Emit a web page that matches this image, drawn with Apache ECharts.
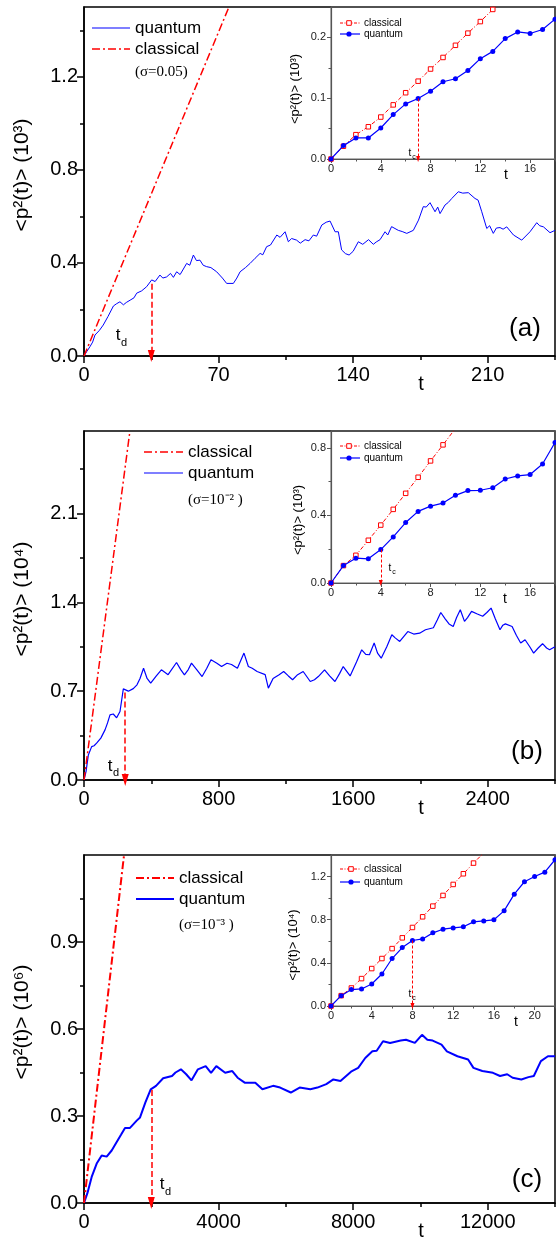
<!DOCTYPE html>
<html><head><meta charset="utf-8">
<script src="https://cdn.jsdelivr.net/npm/echarts@6/dist/echarts.min.js"></script>
<style>html,body{margin:0;padding:0;background:#fff}#c{width:556px;height:1240px}</style>
</head><body><div id="c"></div>
<script>
// ---------- tick values ----------
const aXTicks=[0,70,140,210], aXMinor=[35,105,175,245];
const aYTicks=[0,0.4,0.8,1.2], aYMinor=[0.2,0.6,1.0,1.4];
const bXTicks=[0,800,1600,2400], bXMinor=[400,1200,2000,2800];
const bYTicks=[0,0.7,1.4,2.1], bYMinor=[0.35,1.05,1.75,2.45];
const cXTicks=[0,4000,8000,12000], cXMinor=[2000,6000,10000,14000];
const cYTicks=[0,0.3,0.6,0.9], cYMinor=[0.15,0.45,0.75,1.05];
const iXTicks=[0,4,8,12,16], iXMinor=[2,6,10,14,18];
const icXTicks=[0,4,8,12,16,20], icXMinor=[2,6,10,14,18,22];
const iaYTicks=[0,0.1,0.2], iaYMinor=[0.05,0.15];
const ibYTicks=[0,0.4,0.8], ibYMinor=[0.2,0.6];
const icYTicks=[0,0.4,0.8,1.2], icYMinor=[0.2,0.6,1.0];

// ---------- main panel data [t, <p^2>] ----------
const classicalA=[[0,0],[75.4,1.5]];
const classicalB=[[0,0],[273,2.75]];
const classicalC=[[0,0],[1190,1.2]];
const quantumA=[[0,0],[1.5,0.02],[3.1,0.04],[4.5,0.06],[5.7,0.09],[8,0.11],[10,0.133],[12.5,0.17],[15.3,0.215],[17,0.225],[18.7,0.233],[20.5,0.22],[22,0.23],[24,0.24],[26,0.25],[27.4,0.27],[30,0.28],[32.6,0.298],[35.2,0.327],[37,0.32],[39.5,0.348],[41,0.335],[43,0.34],[45,0.355],[46.5,0.338],[48.2,0.362],[50,0.35],[53.4,0.398],[55,0.39],[56.9,0.434],[58.5,0.41],[60.3,0.412],[62,0.39],[63.8,0.384],[66,0.38],[69,0.362],[72,0.335],[74.2,0.312],[77.7,0.312],[79.5,0.335],[81.2,0.362],[84,0.38],[86.4,0.398],[89,0.42],[91.6,0.441],[93,0.435],[95,0.47],[97,0.477],[100.3,0.52],[102,0.51],[104.6,0.534],[106.3,0.491],[108,0.505],[110.6,0.498],[112.5,0.485],[115,0.5],[117,0.495],[119.3,0.52],[121,0.515],[123.7,0.563],[126,0.575],[128,0.58],[130.6,0.534],[132.3,0.534],[134,0.456],[136,0.44],[137.9,0.434],[140,0.45],[142.7,0.491],[145,0.48],[148,0.5],[150.5,0.48],[152,0.49],[154,0.5],[156.6,0.534],[158,0.52],[160,0.556],[163.5,0.54],[165.5,0.535],[167.9,0.527],[171.3,0.54],[174,0.584],[176.5,0.642],[178,0.64],[180,0.659],[182.6,0.62],[184,0.64],[185.2,0.612],[187.8,0.649],[189.5,0.66],[191.3,0.677],[194.7,0.706],[197,0.7],[199.9,0.702],[203.4,0.677],[205,0.67],[206.9,0.62],[209.5,0.548],[211,0.56],[212.9,0.527],[214.5,0.55],[216.4,0.552],[218,0.545],[219.9,0.555],[223.4,0.52],[227.7,0.498],[232,0.534],[235.5,0.573],[237,0.56],[239,0.555],[242.4,0.53],[245,0.54]];
const quantumB=[[0,0],[12,0.066],[25.8,0.197],[45.6,0.263],[60,0.27],[75,0.29],[100,0.33],[125,0.395],[140,0.45],[154.6,0.513],[174,0.52],[194,0.49],[214,0.54],[233.8,0.718],[263.6,0.7],[293,0.72],[315,0.75],[333,0.8],[354,0.88],[375,0.8],[396.5,0.763],[430,0.82],[460,0.868],[500,0.83],[550,0.926],[575,0.87],[597,0.829],[620,0.87],[639,0.921],[670,0.87],[702,0.815],[730,0.88],[755,0.947],[790,0.92],[818,0.894],[850,0.92],[877,0.91],[912,0.88],[951,1.0],[977,0.894],[1000,0.88],[1029,0.855],[1077,0.83],[1096,0.724],[1124,0.8],[1160,0.83],[1187,0.855],[1215,0.82],[1240,0.79],[1270,0.83],[1303,0.855],[1345,0.776],[1370,0.79],[1393,0.815],[1430,0.868],[1460,0.82],[1492,0.776],[1520,0.84],[1541,0.894],[1582,0.82],[1620,0.93],[1651,1.026],[1675,0.99],[1697,0.987],[1725,1.079],[1745,1.0],[1767,0.96],[1800,1.05],[1830,1.144],[1850,1.12],[1877,1.092],[1925,1.17],[1960,1.15],[1995,1.157],[2030,1.184],[2077,1.2],[2100,1.26],[2121,1.32],[2147,1.27],[2170,1.23],[2195,1.21],[2215,1.28],[2237,1.342],[2262,1.25],[2280,1.28],[2304,1.329],[2335,1.31],[2370,1.29],[2395,1.32],[2420,1.355],[2445,1.27],[2473,1.184],[2490,1.22],[2505,1.23],[2545,1.21],[2570,1.14],[2596,1.079],[2622,1.105],[2650,1.05],[2673,1.0],[2700,1.04],[2726,1.074],[2750,1.04],[2768,1.026],[2800,1.05]];
const quantumC=[[0,0],[99,0.033],[228,0.09],[377,0.136],[526,0.164],[674,0.16],[823,0.181],[972,0.21],[1100,0.235],[1219,0.259],[1367,0.259],[1566,0.284],[1666,0.295],[1825,0.347],[1983,0.392],[2141,0.404],[2352,0.43],[2616,0.438],[2720,0.45],[2880,0.461],[3038,0.444],[3196,0.423],[3386,0.461],[3617,0.472],[3776,0.449],[3933,0.472],[4196,0.449],[4407,0.455],[4566,0.432],[4776,0.415],[5092,0.415],[5303,0.392],[5619,0.404],[5830,0.398],[6147,0.381],[6410,0.398],[6727,0.392],[6938,0.398],[7202,0.41],[7412,0.426],[7623,0.421],[7937,0.453],[8150,0.466],[8360,0.5],[8571,0.523],[8700,0.525],[8888,0.558],[9099,0.552],[9414,0.56],[9571,0.563],[9835,0.552],[10047,0.58],[10205,0.563],[10363,0.56],[10627,0.546],[10786,0.523],[11100,0.506],[11417,0.495],[11576,0.466],[11840,0.455],[12156,0.449],[12366,0.438],[12580,0.444],[12740,0.432],[13000,0.426],[13210,0.434],[13370,0.438],[13580,0.489],[13790,0.506],[14000,0.506]];

// ---------- inset data (index = t) ----------
const insetAClassical=[0,0.021,0.040,0.053,0.069,0.089,0.109,0.128,0.148,0.167,0.187,0.207,0.226,0.246,0.266];
const insetAQuantum=[0,0.022,0.0346,0.0346,0.051,0.073,0.0906,0.0994,0.1115,0.127,0.132,0.1455,0.165,0.177,0.198,0.209,0.2065,0.213,0.230];
const insetBClassical=[0,0.103,0.164,0.253,0.343,0.436,0.531,0.626,0.723,0.818,0.915];
const insetBQuantum=[0,0.103,0.147,0.143,0.198,0.273,0.358,0.424,0.455,0.473,0.519,0.547,0.549,0.564,0.616,0.634,0.642,0.705,0.832];
const insetCClassical=[0,0.096,0.167,0.254,0.347,0.44,0.532,0.632,0.728,0.827,0.926,1.025,1.127,1.226,1.325,1.42];
const insetCQuantum=[0,0.096,0.152,0.158,0.204,0.297,0.44,0.542,0.607,0.622,0.678,0.712,0.724,0.734,0.78,0.789,0.799,0.882,1.037,1.152,1.201,1.241,1.356];

// ---------- arrows [t, from value] ----------
const tdA=[35,0.31], tdB=[245,0.69], tdC=[2000,0.39];
const tcA=[7,0.0994], tcB=[4,0.198], tcC=[8,0.607];

const SANS='"Liberation Sans", Arial, sans-serif';
const SERIF='"Liberation Serif", "Times New Roman", serif';

const grids=[
  {left:84,top:7,width:471,height:349},
  {left:331,top:7,width:224,height:152},
  {left:84,top:431,width:471,height:349},
  {left:331,top:431,width:224,height:152},
  {left:84,top:855,width:471,height:348},
  {left:331,top:855,width:224,height:151}
].map((g,i)=>Object.assign(g,{show:true,borderColor:i%2?'#666':'#000',borderWidth:i%2?1:1.5,backgroundColor:'transparent'}));

function axes(dim,gi,min,max,majors,minors,main,fmt){
  const col=main?'#000':'#555';
  const pos=dim==='x'?'bottom':'left';
  const p={type:'value',gridIndex:gi,min:min,max:max,position:pos,
    axisLine:{show:true,onZero:false,lineStyle:{color:col,width:main?1.5:1.2}},
    axisTick:{show:true,inside:false,length:main?7:4,customValues:majors,lineStyle:{color:col,width:main?1.5:1}},
    axisLabel:{show:true,customValues:majors,formatter:fmt,color:main?'#000':'#222',fontSize:main?20:11,fontFamily:SANS,
      margin:main?(dim==='x'?9:6):(dim==='x'?4:5)},
    splitLine:{show:false},minorTick:{show:false}};
  const m={type:'value',gridIndex:gi,min:min,max:max,position:pos,
    axisLine:{show:false,onZero:false},
    axisTick:{show:true,inside:false,length:main?4:2.5,customValues:minors,lineStyle:{color:col,width:main?1.5:1}},
    axisLabel:{show:false},splitLine:{show:false}};
  return [p,m];
}
const f1=v=>v.toFixed(1), f0=v=>String(Math.round(v));
const xAxis=[].concat(
  axes('x',0,0,245,aXTicks,aXMinor,true,f0),
  axes('x',1,0,18,iXTicks,iXMinor,false,f0),
  axes('x',2,0,2800,bXTicks,bXMinor,true,f0),
  axes('x',3,0,18,iXTicks,iXMinor,false,f0),
  axes('x',4,0,14000,cXTicks,cXMinor,true,f0),
  axes('x',5,0,22,icXTicks,icXMinor,false,f0));
const yAxis=[].concat(
  axes('y',0,0,1.5,aYTicks,aYMinor,true,f1),
  axes('y',1,0,0.25,iaYTicks,iaYMinor,false,f1),
  axes('y',2,0,2.75,bYTicks,bYMinor,true,f1),
  axes('y',3,0,0.9,ibYTicks,ibYMinor,false,f1),
  axes('y',4,0,1.2,cYTicks,cYMinor,true,f1),
  axes('y',5,0,1.4,icYTicks,icYMinor,false,f1));

function arrow(pt,w,size,dash){
  return {silent:true,animation:false,symbol:['none','triangle'],symbolSize:size,
    label:{show:false},emphasis:{disabled:true},
    lineStyle:{color:'#ff0000',type:dash,width:w,opacity:1},
    itemStyle:{color:'#ff0000'},
    data:[[{coord:[pt[0],pt[1]]},{coord:[pt[0],0]}]]};
}
function mainSeries(gi,q,c,td,qw,cw){
  return [
    {type:'line',xAxisIndex:2*gi,yAxisIndex:2*gi,data:q,symbol:'none',silent:true,z:2,
      lineStyle:{color:'#0000ff',width:qw},markLine:arrow(td,1.5,[7,12],[6,3])},
    {type:'line',xAxisIndex:2*gi,yAxisIndex:2*gi,data:c,symbol:'none',silent:true,z:3,
      lineStyle:{color:'#ff0000',width:cw,type:[8,3,2,3]}}
  ];
}
function insetSeries(gi,cl,qu,tc){
  return [
    {type:'line',xAxisIndex:2*gi,yAxisIndex:2*gi,data:cl.map((v,i)=>[i,v]),symbol:'rect',symbolSize:4.5,showSymbol:true,silent:true,z:3,
      itemStyle:{color:'#fff',borderColor:'#ff0000',borderWidth:1},lineStyle:{color:'#ff0000',width:1,type:[4,2,1,2]}},
    {type:'line',xAxisIndex:2*gi,yAxisIndex:2*gi,data:qu.map((v,i)=>[i,v]),symbol:'circle',symbolSize:5,showSymbol:true,silent:true,z:4,
      itemStyle:{color:'#0000ff'},lineStyle:{color:'#0000ff',width:1.2},markLine:arrow(tc,1,[4,6],[3,2])}
  ];
}
const series=[].concat(
  mainSeries(0,quantumA,classicalA,tdA,1,1.5),
  insetSeries(1,insetAClassical,insetAQuantum,tcA),
  mainSeries(2,quantumB,classicalB,tdB,1.2,1.5),
  insetSeries(3,insetBClassical,insetBQuantum,tcB),
  mainSeries(4,quantumC,classicalC,tdC,2,2),
  insetSeries(5,insetCClassical,insetCQuantum,tcC));

// ---------- graphic text / legends ----------
function txt(x,y,text,size,o){o=o||{};
  return {type:'text',x:x,y:y,silent:true,rotation:o.rot||0,z:10,
    style:{text:text,fill:o.color||'#000',font:size+'px '+(o.font||SANS),align:o.align||'left',verticalAlign:'middle'}};}
function ln(x1,y1,x2,y2,color,w,dash){
  return {type:'line',silent:true,z:10,shape:{x1:x1,y1:y1,x2:x2,y2:y2},style:{stroke:color,lineWidth:w,lineDash:dash||null}};}
function sq(cx,cy){return {type:'rect',silent:true,z:11,shape:{x:cx-2.3,y:cy-2.3,width:4.6,height:4.6},style:{fill:'#fff',stroke:'#ff0000',lineWidth:1}};}
function dot(cx,cy){return {type:'circle',silent:true,z:11,shape:{cx:cx,cy:cy,r:2.6},style:{fill:'#0000ff'}};}
const R=Math.PI/2, RED='#ff0000', BLUE='#0000ff', DD=[8,3,2,3], dd=[3,1.5,1,1.5];
const ylab='<p²(t)> (10';
const graphic=[
  // panel a
  txt(22,175,ylab+'³)',21,{align:'center',rot:R}),
  ln(92,28,130,28,BLUE,1.2), txt(135,28,'quantum',17),
  ln(92,49,130,49,RED,1.5,DD), txt(135,49,'classical',17),
  txt(135,72,'(σ=0.05)',15,{font:SERIF}),
  txt(421,384,'t',20,{align:'center'}),
  txt(525,329,'(a)',26,{align:'center'}),
  txt(118,335,'t',17,{align:'center'}), txt(124,343,'d',11,{align:'center'}),
  // inset a
  txt(295,89,ylab+'³)',13,{align:'center',rot:R}),
  ln(340,23,360,23,RED,1,dd), sq(349,23), txt(364,23,'classical',10),
  ln(340,34,360,34,BLUE,1.2), dot(349,34), txt(364,34,'quantum',10),
  txt(506,175,'t',14,{align:'center'}),
  txt(410,153,'t',10,{align:'center'}), txt(414,157,'c',7,{align:'center'}),
  // panel b
  txt(22,599,ylab+'⁴)',21,{align:'center',rot:R}),
  ln(144,452,183,452,RED,1.5,DD), txt(188,452,'classical',17),
  ln(144,473,183,473,BLUE,1.2), txt(188,473,'quantum',17),
  txt(188,500,'(σ=10⁻² )',15,{font:SERIF}),
  txt(421,808,'t',20,{align:'center'}),
  txt(527,752,'(b)',26,{align:'center'}),
  txt(110,766,'t',17,{align:'center'}), txt(116,773,'d',11,{align:'center'}),
  // inset b
  txt(298,520,ylab+'³)',13,{align:'center',rot:R}),
  ln(340,446,360,446,RED,1,dd), sq(349,446), txt(364,446,'classical',10),
  ln(340,458,360,458,BLUE,1.2), dot(349,458), txt(364,458,'quantum',10),
  txt(505,599,'t',14,{align:'center'}),
  txt(390,568,'t',10,{align:'center'}), txt(394,572,'c',7,{align:'center'}),
  // panel c
  txt(22,1022,ylab+'⁶)',21,{align:'center',rot:R}),
  ln(136,878,174,878,RED,2,DD), txt(179,878,'classical',17),
  ln(136,899,174,899,BLUE,2), txt(179,899,'quantum',17),
  txt(179,925,'(σ=10⁻³ )',15,{font:SERIF}),
  txt(421,1231,'t',20,{align:'center'}),
  txt(527,1180,'(c)',26,{align:'center'}),
  txt(162,1184,'t',17,{align:'center'}), txt(168,1192,'d',11,{align:'center'}),
  // inset c
  txt(293,945,ylab+'⁴)',13,{align:'center',rot:R}),
  ln(340,869,360,869,RED,1,dd), sq(351,869), txt(364,869,'classical',10),
  ln(340,882,360,882,BLUE,1.2), dot(351,882), txt(364,882,'quantum',10),
  txt(516,1022,'t',14,{align:'center'}),
  txt(410,994,'t',10,{align:'center'}), txt(414,998,'c',7,{align:'center'})
];

const chart=echarts.init(document.getElementById('c'),null,{renderer:'canvas'});
chart.setOption({animation:false,backgroundColor:'#fff',grid:grids,xAxis:xAxis,yAxis:yAxis,series:series,graphic:graphic});
</script></body></html>
